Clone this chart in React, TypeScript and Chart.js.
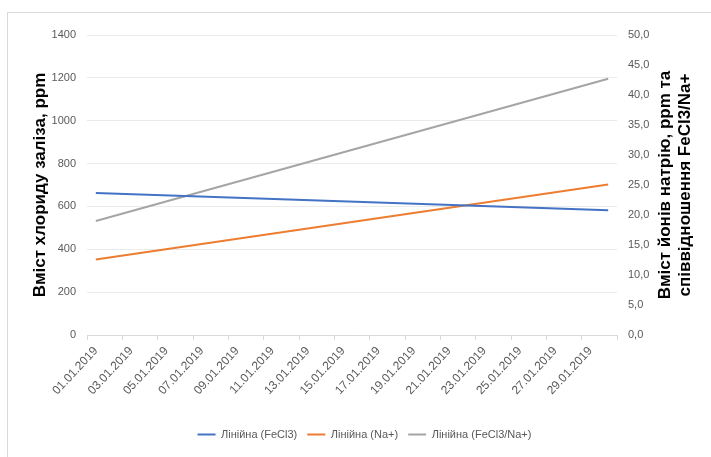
import React, { useEffect, useRef } from "react";
import { Chart, registerables } from "chart.js";

Chart.register(...registerables);

// Days of January 2019 shown on the category axis
const days: string[] = [
  "01.01.2019", "02.01.2019", "03.01.2019", "04.01.2019", "05.01.2019",
  "06.01.2019", "07.01.2019", "08.01.2019", "09.01.2019", "10.01.2019",
  "11.01.2019", "12.01.2019", "13.01.2019", "14.01.2019", "15.01.2019",
  "16.01.2019", "17.01.2019", "18.01.2019", "19.01.2019", "20.01.2019",
  "21.01.2019", "22.01.2019", "23.01.2019", "24.01.2019", "25.01.2019",
  "26.01.2019", "27.01.2019", "28.01.2019", "29.01.2019", "30.01.2019",
];

// Linear trend lines: value at the first and last day, straight line between
const feCl3Trend: (number | null)[] = [663, ...Array(28).fill(null), 582];
const naTrend: (number | null)[] = [12.6, ...Array(28).fill(null), 25.1];
const ratioTrend: (number | null)[] = [19.0, ...Array(28).fill(null), 42.7];

const seriesNames = ["Лінійна (FeCl3)", "Лінійна (Na+)", "Лінійна (FeCl3/Na+)"];
const seriesColors = ["#4472C4", "#ED7D31", "#A5A5A5"];

const leftTitle = "Вміст хлориду заліза, ppm";
const rightTitle = ["Вміст йонів натрію, ppm та", "співвідношення FeCl3/Na+"];

const FONT = "'Liberation Sans', Arial, sans-serif";
const TICK_COLOR = "#595959";
const AXIS_COLOR = "#d9d9d9";

// Both axis titles read bottom-to-top, so they are drawn here
const axisTitles = {
  id: "axisTitles",
  afterDraw(chart: Chart) {
    const { ctx, chartArea } = chart;
    const cy = (chartArea.top + chartArea.bottom) / 2;
    ctx.save();
    ctx.fillStyle = "#000";
    ctx.font = `bold 17px ${FONT}`;
    ctx.textAlign = "center";
    ctx.textBaseline = "alphabetic";
    const drawLine = (text: string, x: number) => {
      ctx.save();
      ctx.translate(x, cy);
      ctx.rotate(-Math.PI / 2);
      ctx.fillText(text, 0, 0);
      ctx.restore();
    };
    drawLine(leftTitle, chartArea.left - 42);
    drawLine(rightTitle[0], chartArea.right + 53);
    drawLine(rightTitle[1], chartArea.right + 73);
    ctx.restore();
  },
};

export default function App() {
  const canvasRef = useRef<HTMLCanvasElement | null>(null);

  useEffect(() => {
    const canvas = canvasRef.current;
    if (!canvas) return;
    const chart = new Chart(canvas, {
      type: "line",
      data: {
        labels: days,
        datasets: [
          {
            label: seriesNames[0],
            data: feCl3Trend,
            yAxisID: "y",
            borderColor: seriesColors[0],
            backgroundColor: seriesColors[0],
            borderWidth: 2,
            pointRadius: 0,
            spanGaps: true,
          },
          {
            label: seriesNames[1],
            data: naTrend,
            yAxisID: "y1",
            borderColor: seriesColors[1],
            backgroundColor: seriesColors[1],
            borderWidth: 2,
            pointRadius: 0,
            spanGaps: true,
          },
          {
            label: seriesNames[2],
            data: ratioTrend,
            yAxisID: "y1",
            borderColor: seriesColors[2],
            backgroundColor: seriesColors[2],
            borderWidth: 2,
            pointRadius: 0,
            spanGaps: true,
          },
        ],
      },
      options: {
        animation: false,
        responsive: false,
        devicePixelRatio: 1,
        layout: { padding: { left: 18, right: 0, top: 35, bottom: 7 } },
        plugins: {
          tooltip: { enabled: false },
          legend: {
            position: "bottom",
            labels: {
              usePointStyle: true,
              pointStyle: "line",
              pointStyleWidth: 18,
              padding: 10,
              color: TICK_COLOR,
              font: { family: FONT, size: 11 },
            },
          },
        },
        scales: {
          x: {
            type: "category",
            offset: true,
            border: { display: true, color: AXIS_COLOR, width: 1 },
            grid: {
              offset: true,
              drawOnChartArea: false,
              drawTicks: true,
              tickLength: 5,
              color: (ctx: any) =>
                ctx.type === "tick" && ctx.index % 2 !== 0 ? "rgba(0,0,0,0)" : AXIS_COLOR,
            },
            ticks: {
              autoSkip: false,
              maxRotation: 47,
              minRotation: 47,
              padding: 4,
              color: TICK_COLOR,
              font: { family: FONT, size: 12 },
              callback: (_v: any, i: number) => (i % 2 === 0 ? days[i] : ""),
            },
            afterFit: (scale: any) => {
              scale.height = 84;
            },
          },
          y: {
            position: "left",
            min: 0,
            max: 1400,
            border: { display: false },
            grid: { color: "#ebebeb", drawTicks: false },
            ticks: {
              stepSize: 200,
              padding: 11,
              color: TICK_COLOR,
              font: { family: FONT, size: 11 },
              callback: (v: any) => String(v),
            },
            afterFit: (scale: any) => {
              scale.width = 69;
            },
          },
          y1: {
            position: "right",
            min: 0,
            max: 50,
            border: { display: false },
            grid: { drawOnChartArea: false, drawTicks: false },
            ticks: {
              stepSize: 5,
              padding: 11,
              color: TICK_COLOR,
              font: { family: FONT, size: 11 },
              callback: (v: any) => Number(v).toFixed(1).replace(".", ","),
            },
            afterFit: (scale: any) => {
              scale.width = 94;
            },
          },
        },
      },
      plugins: [axisTitles],
    });
    return () => chart.destroy();
  }, []);

  return (
    <div
      style={{
        position: "fixed",
        left: 0,
        top: 0,
        width: 711,
        height: 457,
        background: "#fff",
        overflow: "hidden",
      }}
    >
      <div
        style={{
          position: "absolute",
          left: 7,
          top: 12,
          width: 720,
          height: 460,
          borderLeft: `1px solid ${AXIS_COLOR}`,
          borderTop: `1px solid ${AXIS_COLOR}`,
        }}
      />
      <canvas
        ref={canvasRef}
        width={711}
        height={457}
        style={{ position: "absolute", left: 0, top: 0, width: 711, height: 457 }}
      />
    </div>
  );
}
